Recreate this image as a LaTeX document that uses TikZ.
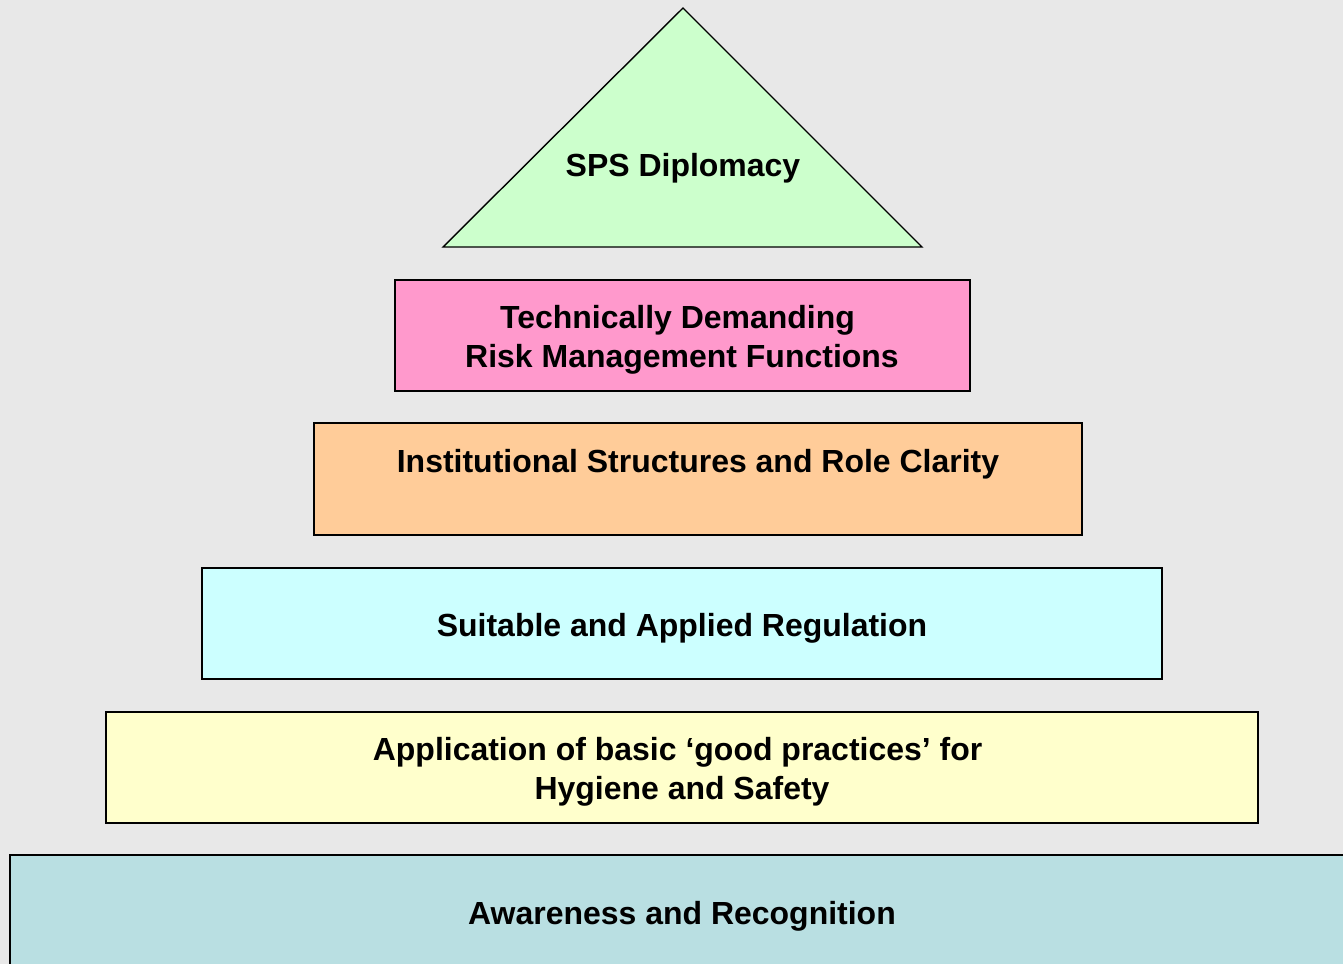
\documentclass[tikz,border=0pt]{standalone}
\usepackage{fontspec}
\setmainfont{Liberation Sans}
\usepackage{xcolor}
\definecolor{backc}{HTML}{E8E8E8}
\definecolor{greenc}{HTML}{CCFFCC}
\definecolor{pinkc}{HTML}{FF99CC}
\definecolor{orangec}{HTML}{FFCC99}
\definecolor{cyanc}{HTML}{CCFFFF}
\definecolor{yellowc}{HTML}{FFFFCC}
\definecolor{tealc}{HTML}{B9DFE2}
\tikzset{
  layer/.style={draw=black, line width=0.8pt},
  lbl/.style={align=center, inner sep=0pt, font=\bfseries\fontsize{18.2}{22.2}\selectfont}
}

\begin{document}
\begin{tikzpicture}[x=0.02cm, y=-0.02cm]
      \clip (0,0) rectangle (1343,964);
      \fill[backc] (0,0) rectangle (1343,964);
      \draw[layer, fill=greenc] (683,8) -- (922,247) -- (443,247) -- cycle;
      \node[lbl] (dipl) at (683,168) {SPS Diplomacy};
      \draw[layer, fill=pinkc] (395,280) rectangle (970,391);
      \node[lbl] (tech) at (682,340) {Technically Demanding\hspace*{0.278em}\\ Risk Management Functions};
      \draw[layer, fill=orangec] (314,423) rectangle (1082,535);
      \node[lbl] (inst) at (698,486) {Institutional Structures and Role Clarity\\ \strut};
      \draw[layer, fill=cyanc] (202,568) rectangle (1162,679);
      \node[lbl] (regu) at (682,628) {Suitable and Applied Regulation};
      \draw[layer, fill=yellowc] (106,712) rectangle (1258,823);
      \node[lbl] (good) at (682,772) {Application of basic `good practices' for\hspace*{0.278em}\\ Hygiene and Safety};
      \draw[layer, fill=tealc] (10,855) rectangle (1354,966);
      \node[lbl] (aware) at (682,916) {Awareness and Recognition};
    \end{tikzpicture}
\end{document}
